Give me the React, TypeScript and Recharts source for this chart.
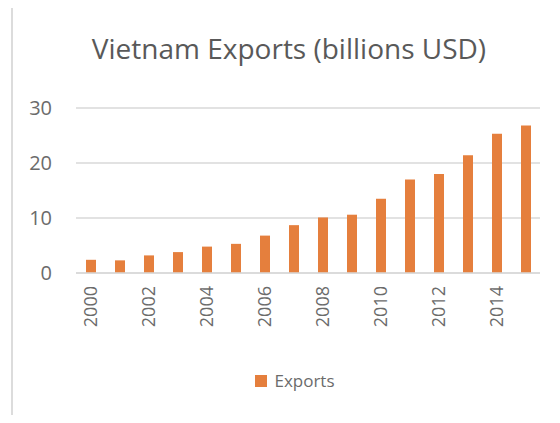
import { Bar, BarChart, CartesianGrid, Legend, XAxis, YAxis } from "recharts";

const years = [
  "2000", "2001", "2002", "2003", "2004", "2005", "2006", "2007",
  "2008", "2009", "2010", "2011", "2012", "2013", "2014", "2015",
];
const exportValues = [
  2.4, 2.3, 3.2, 3.8, 4.8, 5.3, 6.8, 8.7,
  10.1, 10.6, 13.5, 17.0, 18.0, 21.4, 25.3, 26.8,
];
const yTicks = [0, 10, 20, 30];

const data = years.map((year, i) => ({ year, exports: exportValues[i] }));

const FONT = "'Open Sans', sans-serif";
const TEXT = "#6b6b6b";

function YearTick(props: any) {
  const { x, y, payload } = props;
  const ty = y + 11;
  return (
    <text
      x={x}
      y={ty}
      transform={`rotate(-90, ${x}, ${ty})`}
      textAnchor="end"
      dy="0.35em"
      fill={TEXT}
      fontSize={18}
      fontFamily={FONT}
    >
      {payload.value}
    </text>
  );
}

function ExportsLegend() {
  return (
    <div
      style={{
        display: "flex",
        justifyContent: "center",
        alignItems: "center",
        fontFamily: FONT,
        fontSize: 17,
        color: TEXT,
        paddingLeft: 30,
      }}
    >
      <span
        style={{
          width: 12,
          height: 12,
          background: "#e57f3d",
          display: "inline-block",
          marginRight: 7,
        }}
      />
      Exports
    </div>
  );
}

export default function App() {
  return (
    <div
      style={{
        position: "relative",
        width: 560,
        height: 423,
        margin: -8,
        background: "#fff",
        overflow: "hidden",
      }}
    >
      <div
        style={{
          position: "absolute",
          left: 11,
          top: 5,
          right: -5,
          bottom: -5,
          borderLeft: "2px solid #dcdcdc",
          borderTop: "2px solid #dcdcdc",
        }}
      />
      <div
        style={{
          position: "absolute",
          top: 29,
          left: 0,
          width: 578,
          textAlign: "center",
          fontFamily: FONT,
          fontSize: 28,
          color: "#595959",
        }}
      >
        Vietnam Exports (billions USD)
      </div>
      <BarChart
        width={560}
        height={423}
        data={data}
        margin={{ top: 108, right: 20, bottom: 57, left: 16 }}
      >
        <CartesianGrid vertical={false} stroke="#d9d9d9" strokeWidth={1.5} />
        <XAxis
          dataKey="year"
          interval={1}
          tick={<YearTick />}
          tickLine={false}
          tickSize={0}
          height={70}
          axisLine={{ stroke: "#d9d9d9", strokeWidth: 1.5 }}
        />
        <YAxis
          domain={[0, 30]}
          ticks={yTicks}
          width={60}
          axisLine={false}
          tickLine={false}
          tickSize={0}
          tickMargin={24}
          tick={{ fill: TEXT, fontSize: 20, fontFamily: FONT }}
        />
        <Legend
          content={<ExportsLegend />}
          wrapperStyle={{ top: 369, left: 0, width: 560 }}
        />
        <Bar
          dataKey="exports"
          name="Exports"
          fill="#e57f3d"
          barSize={10}
          isAnimationActive={false}
        />
      </BarChart>
    </div>
  );
}
